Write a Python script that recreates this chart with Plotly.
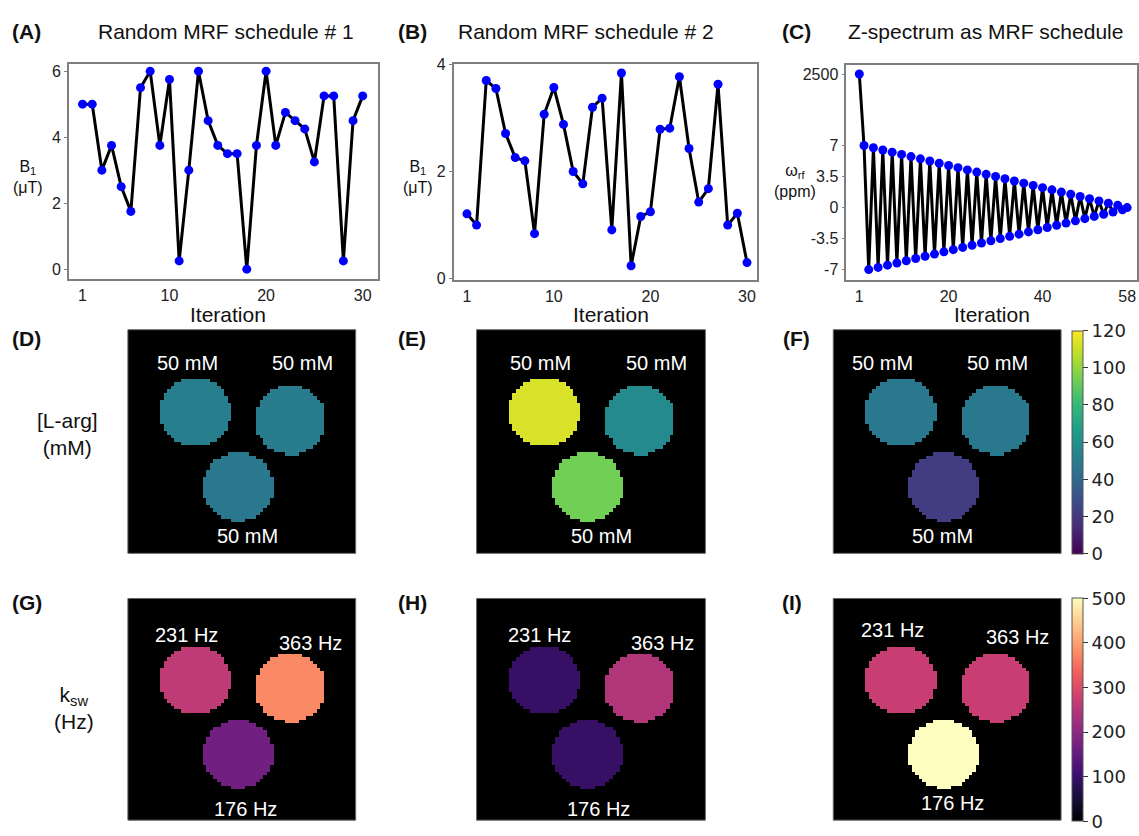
import numpy as np
import plotly.graph_objects as go

W, H = 1139, 836

# ---------------- data ----------------
iter_ab = list(range(1, 31))
b1_schedule1 = [5, 5, 3, 3.75, 2.5, 1.75, 5.5, 6, 3.75, 5.75, 0.25, 3, 6, 4.5, 3.75,
                3.5, 3.5, 0, 3.75, 6, 3.75, 4.75, 4.5, 4.25, 3.25, 5.25, 5.25, 0.25, 4.5, 5.25]
b1_schedule2 = [1.21, 1.0, 3.70, 3.55, 2.71, 2.26, 2.20, 0.84, 3.07, 3.57, 2.88, 2.0, 1.77, 3.20, 3.37,
                0.91, 3.84, 0.24, 1.16, 1.25, 2.79, 2.81, 3.77, 2.43, 1.43, 1.68, 3.63, 1.0, 1.22, 0.30]
iter_c = list(range(1, 59))
w_rf_ppm = [2500, 7, -7, 6.75, -6.75, 6.5, -6.5, 6.25, -6.25, 6, -6, 5.75, -5.75, 5.5, -5.5,
            5.25, -5.25, 5, -5, 4.75, -4.75, 4.5, -4.5, 4.25, -4.25, 4, -4, 3.75, -3.75,
            3.5, -3.5, 3.25, -3.25, 3, -3, 2.75, -2.75, 2.5, -2.5, 2.25, -2.25, 2, -2,
            1.75, -1.75, 1.5, -1.5, 1.25, -1.25, 1, -1, 0.75, -0.75, 0.5, -0.5, 0.25, -0.25, 0]
c_ticks = [2500, 7, 3.5, 0, -3.5, -7]
BREAK_POS = 15.07  # display position of the far-offset (2500 ppm) reference on the broken axis

# phantom geometry on a 64x64 image grid: (column, row) centers and radius
GRID = 64
vial_centers = [(18.4, 23.1), (45.1, 25.3), (30.5, 44.3)]
vial_radius = 9.9
# mean values per vial (top-left, top-right, bottom)
larg_D = [52, 50, 48]
larg_E = [113, 57, 94]
larg_F = [48, 48, 22]
ksw_G = [260, 375, 165]
ksw_H = [95, 245, 95]
ksw_I = [272, 272, 500]
larg_labels = ["50 mM", "50 mM", "50 mM"]
ksw_labels = ["231 Hz", "363 Hz", "176 Hz"]
larg_ticks = [0, 20, 40, 60, 80, 100, 120]
ksw_ticks = [0, 100, 200, 300, 400, 500]

# ---------------- helpers ----------------
FONT = "Liberation Sans, Arial, sans-serif"


def xd(x0, x1):
    return [x0 / W, x1 / W]


def yd(y0, y1):
    return [1 - y1 / H, 1 - y0 / H]


yy, xx = np.mgrid[0:GRID, 0:GRID]


def vial_map(values):
    z = np.full((GRID, GRID), np.nan)
    for (cx, cy), v in zip(vial_centers, values):
        z[(xx - cx) ** 2 + (yy - cy) ** 2 <= vial_radius ** 2] = v
    return z


fig = go.Figure()
annotations = []
shapes = []


def ann(x, y, text, size, color="#111", xanchor="center", family=FONT):
    annotations.append(dict(x=x / W, y=1 - y / H, xref="paper", yref="paper", text=text,
                            showarrow=False, xanchor=xanchor, yanchor="middle", borderpad=0,
                            font=dict(family=family, size=size, color=color)))


base_axis = dict(showline=True, mirror=True, linecolor="#7f7f7f", linewidth=1.5,
                 showgrid=False, zeroline=False,
                 tickfont=dict(family=FONT, size=16, color="#222"))
x_axis_style = dict(ticks="outside", ticklen=1, tickcolor="#7f7f7f", **base_axis)
y_axis_style = dict(ticks="outside", ticklen=3, tickcolor="#7f7f7f", **base_axis)

# ---------------- top row: schedules ----------------
sched = [
    (1, iter_ab, b1_schedule1, (69, 378), (57, 276), [-0.41, 31.55], [-0.29, 6.22],
     [1, 10, 20, 30], [0, 2, 4, 6]),
    (2, iter_ab, b1_schedule2, (454, 758), (57, 277), [-0.38, 31.07], [-0.02, 4.01],
     [1, 10, 20, 30], [0, 2, 4]),
]
for idx, xs, ys, xr, yr, xrange_, yrange_, xt, yt in sched:
    fig.add_trace(go.Scatter(x=xs, y=ys, mode="lines+markers",
                             line=dict(color="black", width=3),
                             marker=dict(color="#0000ff", size=9),
                             xaxis=f"x{idx}", yaxis=f"y{idx}", showlegend=False))
    fig.layout[f"xaxis{idx}"] = dict(domain=xd(*xr), range=xrange_, tickvals=xt,
                                     anchor=f"y{idx}", **x_axis_style)
    fig.layout[f"yaxis{idx}"] = dict(domain=yd(*yr), range=yrange_, tickvals=yt,
                                     anchor=f"x{idx}", **y_axis_style)

c_pos = [v if abs(v) <= 7 else BREAK_POS for v in w_rf_ppm]
c_tickpos = [v if abs(v) <= 7 else BREAK_POS for v in c_ticks]
fig.add_trace(go.Scatter(x=iter_c, y=c_pos, mode="lines+markers",
                         line=dict(color="black", width=3),
                         marker=dict(color="#0000ff", size=9),
                         customdata=w_rf_ppm, xaxis="x3", yaxis="y3", showlegend=False))
fig.layout["xaxis3"] = dict(domain=xd(847, 1138), range=[-1.78, 60.1], tickvals=[1, 20, 40, 58],
                            anchor="y3", **x_axis_style)
fig.layout["yaxis3"] = dict(domain=yd(58, 277), range=[-8.14, 16.1], tickvals=c_tickpos,
                            ticktext=[str(t) for t in c_ticks], anchor="x3", **y_axis_style)

# ---------------- maps ----------------
panels = [
    (4, larg_D, "Viridis", 120, (128, 356), (328, 556), larg_labels,
     [(188, 362), (303, 362), (248, 538)], None),
    (5, larg_E, "Viridis", 120, (477, 706), (328, 556), larg_labels,
     [(541, 362), (657, 362), (602, 538)], None),
    (6, larg_F, "Viridis", 120, (834, 1062), (328, 556), larg_labels,
     [(883, 362), (998, 362), (943, 538)], (larg_ticks, 329, 556)),
    (7, ksw_G, "Magma", 500, (128, 356), (602, 828), ksw_labels,
     [(187, 639), (311, 647), (246, 817)], None),
    (8, ksw_H, "Magma", 500, (477, 706), (602, 828), ksw_labels,
     [(540, 639), (663, 647), (599, 817)], None),
    (9, ksw_I, "Magma", 500, (834, 1062), (602, 828), ksw_labels,
     [(893, 634), (1018, 641), (953, 811)], (ksw_ticks, 602, 829)),
]
for idx, vals, cs, zmax, bx, by, labels, lpos, cb in panels:
    shapes.append(dict(type="rect", xref="paper", yref="paper",
                       x0=bx[0] / W, x1=bx[1] / W, y0=1 - by[1] / H, y1=1 - by[0] / H,
                       fillcolor="black", line=dict(color="#666", width=1), layer="below"))
    trace = dict(z=vial_map(vals), colorscale=cs, zmin=0, zmax=zmax,
                 xaxis=f"x{idx}", yaxis=f"y{idx}", hoverinfo="skip", showscale=cb is not None)
    if cb is not None:
        ticks, cy0, cy1 = cb
        trace["colorbar"] = dict(x=1073 / W, xanchor="left", xpad=0,
                                 y=1 - (cy0 + cy1) / 2 / H, yanchor="middle", ypad=0,
                                 len=(cy1 - cy0) / H, lenmode="fraction",
                                 thickness=11, thicknessmode="pixels",
                                 outlinewidth=1, outlinecolor="#555",
                                 tickvals=ticks, ticks="outside", ticklen=5, tickcolor="#333",
                                 tickfont=dict(family="DejaVu Sans", size=18, color="#222"))
    fig.add_trace(go.Heatmap(**trace))
    fig.layout[f"xaxis{idx}"] = dict(domain=xd(*bx), range=[-0.5, GRID - 0.5], visible=False,
                                     anchor=f"y{idx}")
    fig.layout[f"yaxis{idx}"] = dict(domain=yd(*by), range=[GRID - 0.5, -0.5], visible=False,
                                     anchor=f"x{idx}")
    for (lx, ly), t in zip(lpos, labels):
        ann(lx, ly, t, 20, color="white")

# ---------------- text ----------------
for letter, x, y in [("(A)", 27, 24), ("(B)", 413, 24), ("(C)", 797, 24),
                     ("(D)", 27, 337), ("(E)", 412, 337), ("(F)", 797, 337),
                     ("(G)", 27, 606), ("(H)", 413, 606), ("(I)", 793, 606)]:
    ann(x, y, f"<b>{letter}</b>", 21)

ann(226, 24, "Random MRF schedule # 1", 21)
ann(587, 24, "Random MRF schedule # 2", 21)
ann(986, 24, "Z-spectrum as MRF schedule", 21)

for x in (228, 612, 993):
    ann(x, 312, "Iteration", 21)

ann(28, 172, "B<sub>1</sub><br>(μT)", 16)
ann(418, 172, "B<sub>1</sub><br>(μT)", 16)
ann(796, 176, "ω<sub>rf</sub><br>(ppm)", 16)

ann(68, 434, "[L-arg]<br>(mM)", 21)
ann(74, 714, "k<sub>sw</sub><br>(Hz)", 21)

fig.update_layout(width=W, height=H, margin=dict(l=0, r=0, t=0, b=0),
                  paper_bgcolor="white", plot_bgcolor="white",
                  annotations=annotations, shapes=shapes, showlegend=False,
                  font=dict(family=FONT))

fig.write_html("out.html")
